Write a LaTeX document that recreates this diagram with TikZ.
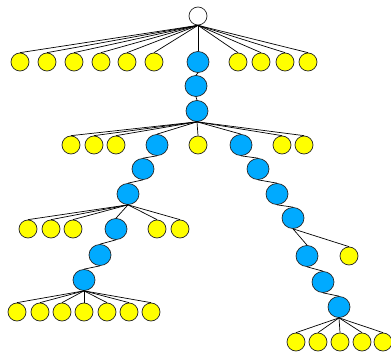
\documentclass[tikz,border=0pt]{standalone}
\usetikzlibrary{shapes.geometric}
\definecolor{ylw}{RGB}{255,255,0}
\definecolor{blu}{RGB}{0,170,255}
\tikzset{
  yl/.style={circle,draw=black!85,fill=ylw,line width=0.7pt,minimum size=18pt,inner sep=0pt},
  bl/.style={ellipse,draw=black!85,fill=blu,line width=0.7pt,minimum width=22pt,minimum height=21pt,inner sep=0pt},
  rt/.style={circle,draw=black!85,fill=white,line width=0.7pt,minimum size=18pt,inner sep=0pt},
  ed/.style={draw=black,line width=0.7pt}
}
\begin{document}
\begin{tikzpicture}[x=1pt,y=-1pt]
\useasboundingbox (0,0) rectangle (391,355);
% root and level 1
\node[rt] (r) at (198,16) {};
\foreach \i/\x in {1/20,2/47,3/74,4/101,5/127,6/154,7/238,8/261,9/285,10/308}
  \node[yl] (a\i) at (\x,62) {};
\node[bl] (b1) at (198,62) {};
\node[bl] (b2) at (196,86) {};
\node[bl] (b3) at (197,111) {};
% level 2
\foreach \i/\x in {1/71,2/94,3/116,4/198,5/282,6/304}
  \node[yl] (c\i) at (\x,145) {};
\node[bl] (b4) at (157,145) {};
\node[bl] (b5) at (241,145) {};
% left branch
\node[bl] (b6) at (143,169) {};
\node[bl] (b7) at (128,194) {};
\foreach \i/\x in {1/28,2/51,3/73,4/157,5/180}
  \node[yl] (d\i) at (\x,229) {};
\node[bl] (b8) at (116,229) {};
\node[bl] (b9) at (100,255) {};
\node[bl] (b10) at (84,280) {};
\foreach \i/\x in {1/17,2/40,3/62,4/84,5/107,6/129,7/151}
  \node[yl] (e\i) at (\x,312) {};
% right branch
\node[bl] (b11) at (258,169) {};
\node[bl] (b12) at (277,194) {};
\node[bl] (b13) at (293,218) {};
\node[bl] (b14) at (307,256) {};
\node[yl] (f1) at (349,256) {};
\node[bl] (b15) at (323,282) {};
\node[bl] (b16) at (339,307) {};
\foreach \i/\x in {1/296,2/318,3/340,4/362,5/383}
  \node[yl] (g\i) at (\x,342) {};
% edges
\begin{scope}[on background layer/.style={}]
\foreach \n in {a1,a2,a3,a4,a5,a6,a7,a8,a9,a10,b1}
  \draw[ed] (r.south) -- (\n.north);
\draw[ed] (b1.south) -- (b2.north);
\draw[ed] (b2.south) -- (b3.north);
\foreach \n in {c1,c2,c3,c4,c5,c6,b4,b5}
  \draw[ed] (b3.south) -- (\n.north);
\draw[ed] (b4.south) -- (b6.north);
\draw[ed] (b6.south) -- (b7.north);
\foreach \n in {d1,d2,d3,d4,d5,b8}
  \draw[ed] (b7.south) -- (\n.north);
\draw[ed] (b8.south) -- (b9.north);
\draw[ed] (b9.south) -- (b10.north);
\foreach \n in {e1,e2,e3,e4,e5,e6,e7}
  \draw[ed] (b10.south) -- (\n.north);
\draw[ed] (b5.south) -- (b11.north);
\draw[ed] (b11.south) -- (b12.north);
\draw[ed] (b12.south) -- (b13.north);
\draw[ed] (b13.south) -- (b14.north);
\draw[ed] (b13.south) -- (f1.north);
\draw[ed] (b14.south) -- (b15.north);
\draw[ed] (b15.south) -- (b16.north);
\foreach \n in {g1,g2,g3,g4,g5}
  \draw[ed] (b16.south) -- (\n.north);
\end{scope}
\end{tikzpicture}
\end{document}
